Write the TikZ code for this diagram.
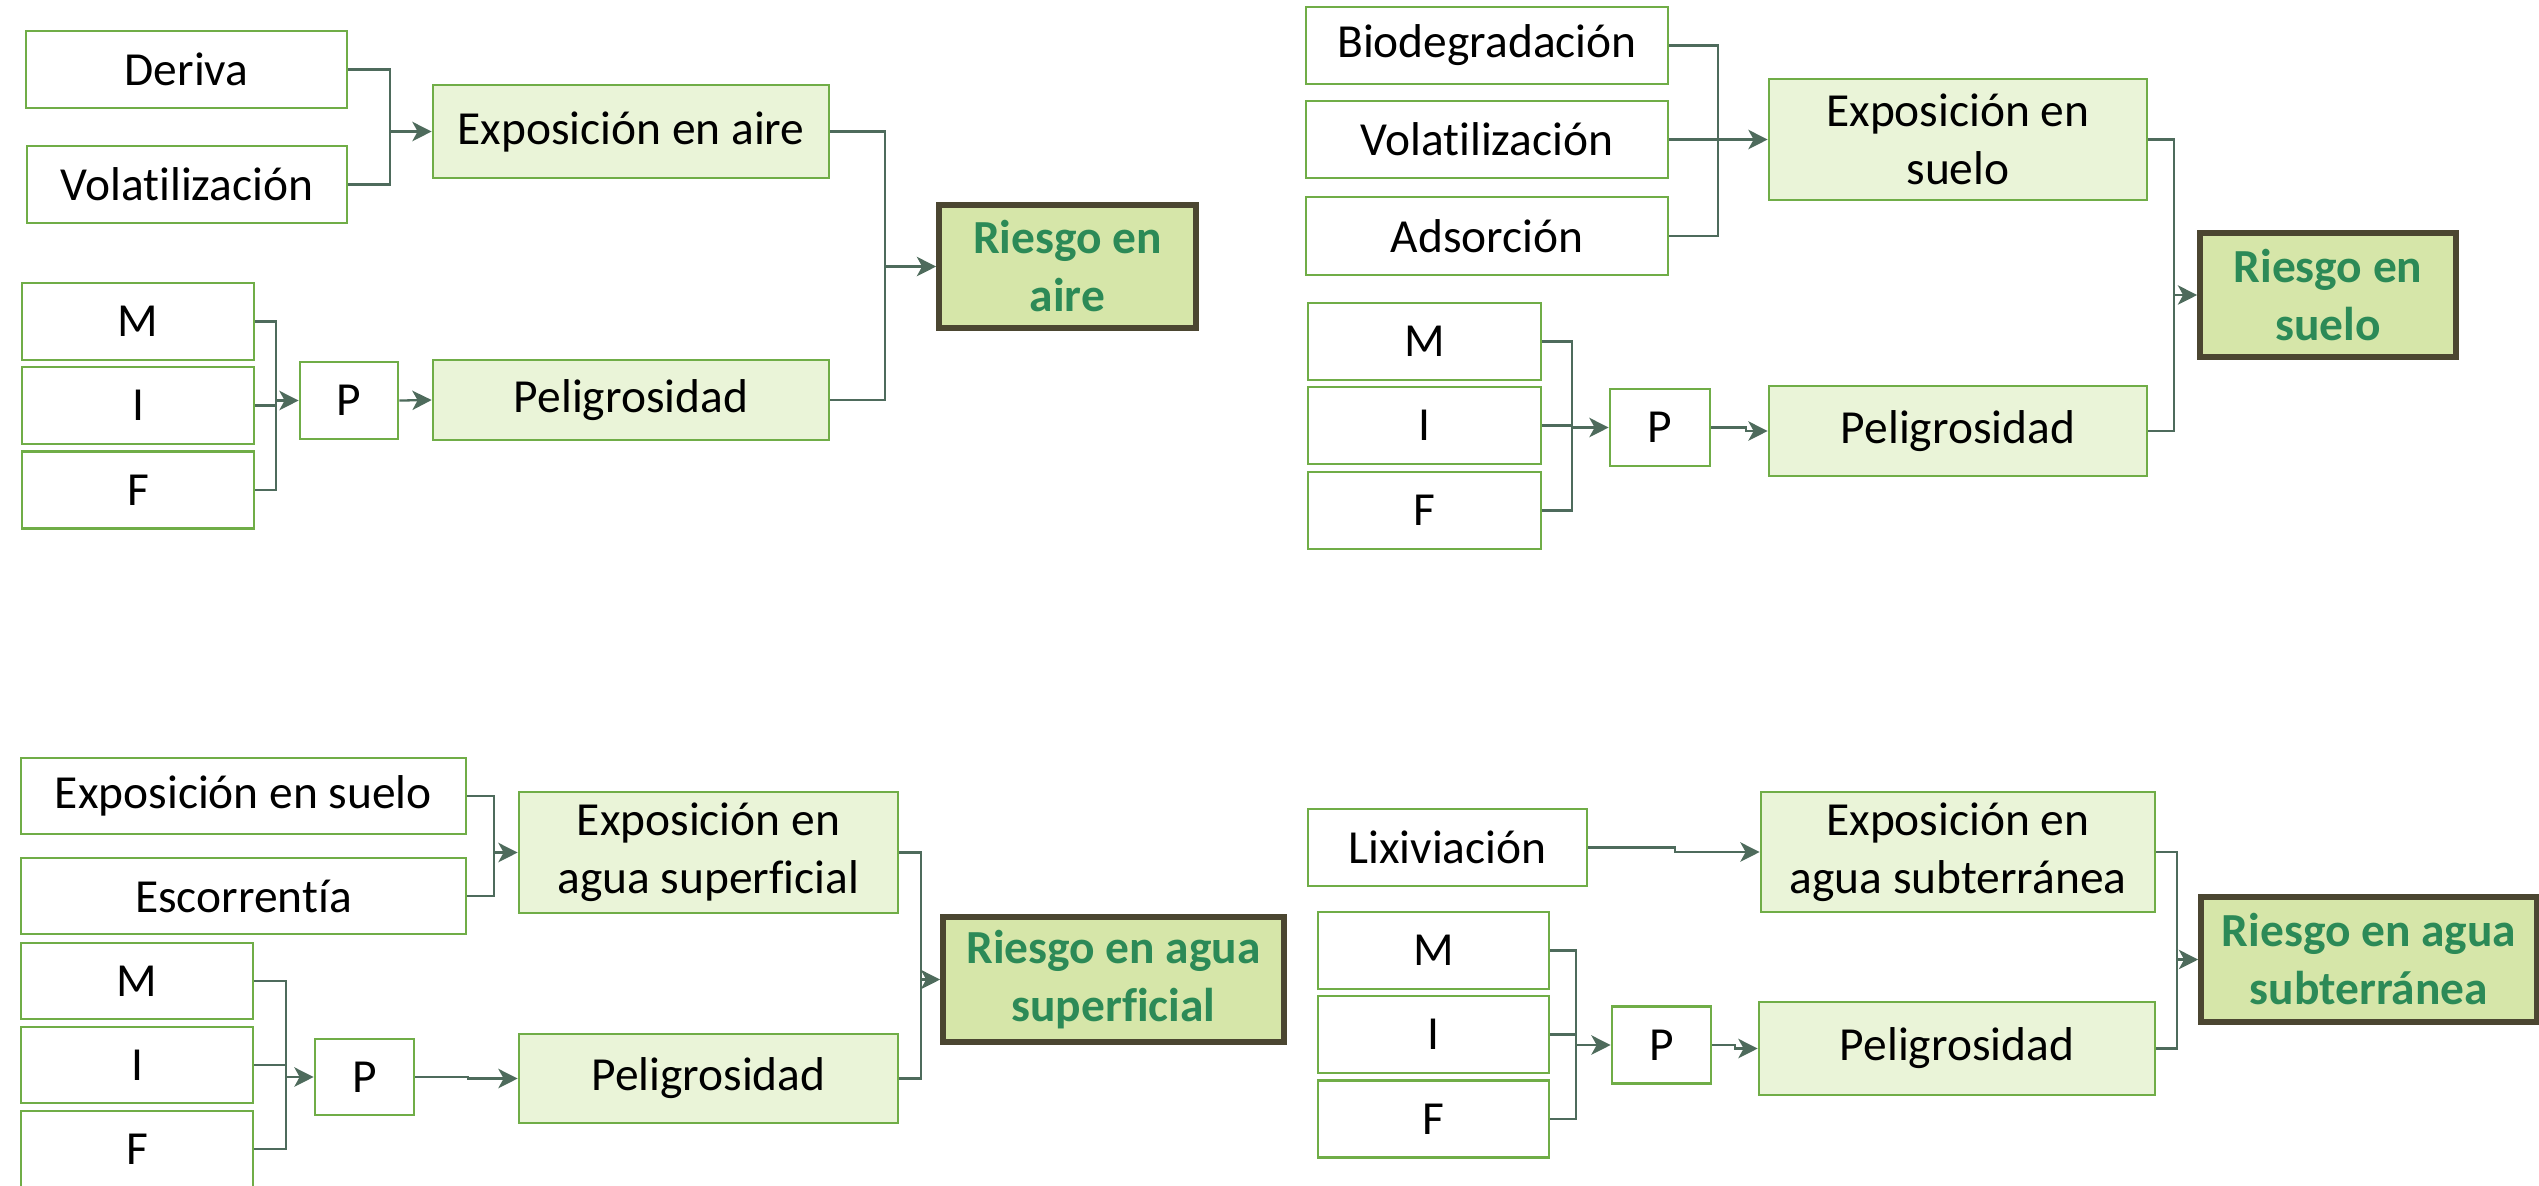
\documentclass[tikz,border=0pt]{standalone}
\usepackage{fontspec}
\setmainfont{Carlito}[Ligatures=NoCommon]
\usetikzlibrary{arrows.meta}
\definecolor{boxgreen}{HTML}{70AD47}
\definecolor{lightfill}{HTML}{EAF4D8}
\definecolor{riskfill}{HTML}{D6E6A9}
\definecolor{riskdraw}{HTML}{4B4631}
\definecolor{risktext}{HTML}{2C8A57}
\definecolor{linecol}{HTML}{4E6B5C}

\begin{document}
\begin{tikzpicture}[>={Stealth[length=5.5pt,width=5.5pt,inset=1.5pt]},line width=0.65pt,
                    font=\fontsize{13.5}{16.5}\selectfont,
                    input node/.style={rectangle,draw=boxgreen,line width=0.75pt,fill=white,minimum height=0.77cm,inner sep=1pt,align=center},
                    mid node/.style={input node,fill=lightfill},
                    risk node/.style={rectangle,draw=riskdraw,line width=1.6pt,fill=riskfill,text=risktext,inner sep=1pt,align=center,font=\fontsize{13.5}{16.5}\selectfont\bfseries},
                    link/.style={draw=linecol}]
  \useasboundingbox (0,0) rectangle (25.39,-11.85);

  \node[input node,minimum width=3.21cm] (der) at (1.865,-0.695) {Deriva};
  \node[input node,minimum width=3.2cm] (vol1) at (1.87,-1.845) {Volatilización};
  \node[mid node,minimum width=3.96cm,minimum height=0.93cm] (expa) at (6.31,-1.315) {Exposición en aire};
  \node[risk node,minimum width=2.57cm,minimum height=1.23cm] (ra) at (10.675,-2.665) {Riesgo en\\aire};
  \node[input node,minimum width=2.32cm] (m1) at (1.38,-3.215) {M};
  \node[input node,minimum width=2.32cm] (i1) at (1.38,-4.055) {I};
  \node[input node,minimum width=2.32cm] (f1) at (1.38,-4.9) {F};
  \node[input node,minimum width=0.98cm] (p1) at (3.49,-4.005) {P};
  \node[mid node,minimum width=3.96cm,minimum height=0.8cm] (pel1) at (6.31,-4.0) {Peligrosidad};
  \coordinate (j1) at (3.9,-1.315);
  \coordinate (k1) at (2.76,-4.005);
  \coordinate (r1) at (8.85,-2.665);
  \draw[link] (der.east) -| (j1) |- (vol1.east);
  \draw[link,->] (j1) -- (expa.west);
  \draw[link] (m1.east) -| (k1) |- (f1.east);
  \draw[link] (i1.east) -- (i1.east -| k1);
  \draw[link,->] (k1) -- (p1.west);
  \draw[link,->] (p1.east) -- (pel1.west);
  \draw[link] (expa.east) -| (r1) |- (pel1.east);
  \draw[link,->] (r1) -- (ra.west);

  \node[input node,minimum width=3.62cm] (bio) at (14.87,-0.455) {Biodegradación};
  \node[input node,minimum width=3.62cm] (vol2) at (14.87,-1.395) {Volatilización};
  \node[input node,minimum width=3.62cm,minimum height=0.78cm] (ads) at (14.87,-2.36) {Adsorción};
  \node[mid node,minimum width=3.78cm,minimum height=1.21cm] (exps) at (19.58,-1.395) {Exposición en\\suelo};
  \node[risk node,minimum width=2.56cm,minimum height=1.24cm] (rs) at (23.28,-2.95) {Riesgo en\\suelo};
  \node[input node,minimum width=2.33cm] (m2) at (14.245,-3.415) {M};
  \node[input node,minimum width=2.33cm] (i2) at (14.245,-4.255) {I};
  \node[input node,minimum width=2.33cm] (f2) at (14.245,-5.105) {F};
  \node[input node,minimum width=1.0cm] (p2) at (16.6,-4.275) {P};
  \node[mid node,minimum width=3.78cm,minimum height=0.9cm] (pel2) at (19.58,-4.31) {Peligrosidad};
  \coordinate (j2) at (17.18,-1.395);
  \coordinate (k2) at (15.72,-4.275);
  \coordinate (r2) at (21.74,-2.95);
  \draw[link] (bio.east) -| (j2) |- (ads.east);
  \draw[link,->] (vol2.east) -- (exps.west);
  \draw[link] (m2.east) -| (k2) |- (f2.east);
  \draw[link] (i2.east) -- (i2.east -| k2);
  \draw[link,->] (k2) -- (p2.west);
  \draw[link,->] (p2.east) -- ++(0.35,0) |- (pel2.west);
  \draw[link] (exps.east) -| (r2) |- (pel2.east);
  \draw[link,->] (r2) -- (rs.west);

  \node[input node,minimum width=4.45cm,minimum height=0.76cm] (exs) at (2.435,-7.96) {Exposición en suelo};
  \node[input node,minimum width=4.45cm,minimum height=0.76cm] (esc) at (2.435,-8.96) {Escorrentía};
  \node[mid node,minimum width=3.79cm,minimum height=1.21cm] (exsup) at (7.085,-8.525) {Exposición en\\agua superficial};
  \node[risk node,minimum width=3.41cm,minimum height=1.25cm] (rsup) at (11.135,-9.795) {Riesgo en agua\\superficial};
  \node[input node,minimum width=2.32cm,minimum height=0.76cm] (m3) at (1.37,-9.81) {M};
  \node[input node,minimum width=2.32cm,minimum height=0.76cm] (i3) at (1.37,-10.65) {I};
  \node[input node,minimum width=2.32cm,minimum height=0.76cm] (f3) at (1.37,-11.49) {F};
  \node[input node,minimum width=0.99cm,minimum height=0.76cm] (p3) at (3.645,-10.77) {P};
  \node[mid node,minimum width=3.79cm,minimum height=0.89cm] (pel3) at (7.085,-10.785) {Peligrosidad};
  \coordinate (j3) at (4.94,-8.525);
  \coordinate (k3) at (2.86,-10.77);
  \coordinate (r3) at (9.21,-9.795);
  \draw[link] (exs.east) -| (j3) |- (esc.east);
  \draw[link,->] (j3) -- (exsup.west);
  \draw[link] (m3.east) -| (k3) |- (f3.east);
  \draw[link] (i3.east) -- (i3.east -| k3);
  \draw[link,->] (k3) -- (p3.west);
  \draw[link,->] (p3.east) -- ++(0.53,0) |- (pel3.west);
  \draw[link] (exsup.east) -| (r3) |- (pel3.east);
  \draw[link,->] (r3) -- (rsup.west);

  \node[input node,minimum width=2.79cm] (lix) at (14.475,-8.475) {Lixiviación};
  \node[mid node,minimum width=3.94cm,minimum height=1.2cm] (exsub) at (19.58,-8.52) {Exposición en\\agua subterránea};
  \node[risk node,minimum width=3.36cm,minimum height=1.25cm] (rsub) at (23.69,-9.595) {Riesgo en agua\\subterránea};
  \node[input node,minimum width=2.31cm] (m4) at (14.335,-9.505) {M};
  \node[input node,minimum width=2.31cm] (i4) at (14.335,-10.345) {I};
  \node[input node,minimum width=2.31cm] (f4) at (14.335,-11.19) {F};
  \node[input node,minimum width=0.99cm] (p4) at (16.615,-10.45) {P};
  \node[mid node,minimum width=3.96cm,minimum height=0.93cm] (pel4) at (19.57,-10.485) {Peligrosidad};
  \coordinate (k4) at (15.76,-10.45);
  \coordinate (r4) at (21.77,-9.595);
  \draw[link,->] (lix.east) -- ++(0.87,0) |- (exsub.west);
  \draw[link] (m4.east) -| (k4) |- (f4.east);
  \draw[link] (i4.east) -- (i4.east -| k4);
  \draw[link,->] (k4) -- (p4.west);
  \draw[link,->] (p4.east) -- ++(0.23,0) |- (pel4.west);
  \draw[link] (exsub.east) -| (r4) |- (pel4.east);
  \draw[link,->] (r4) -- (rsub.west);
\end{tikzpicture}
\end{document}
